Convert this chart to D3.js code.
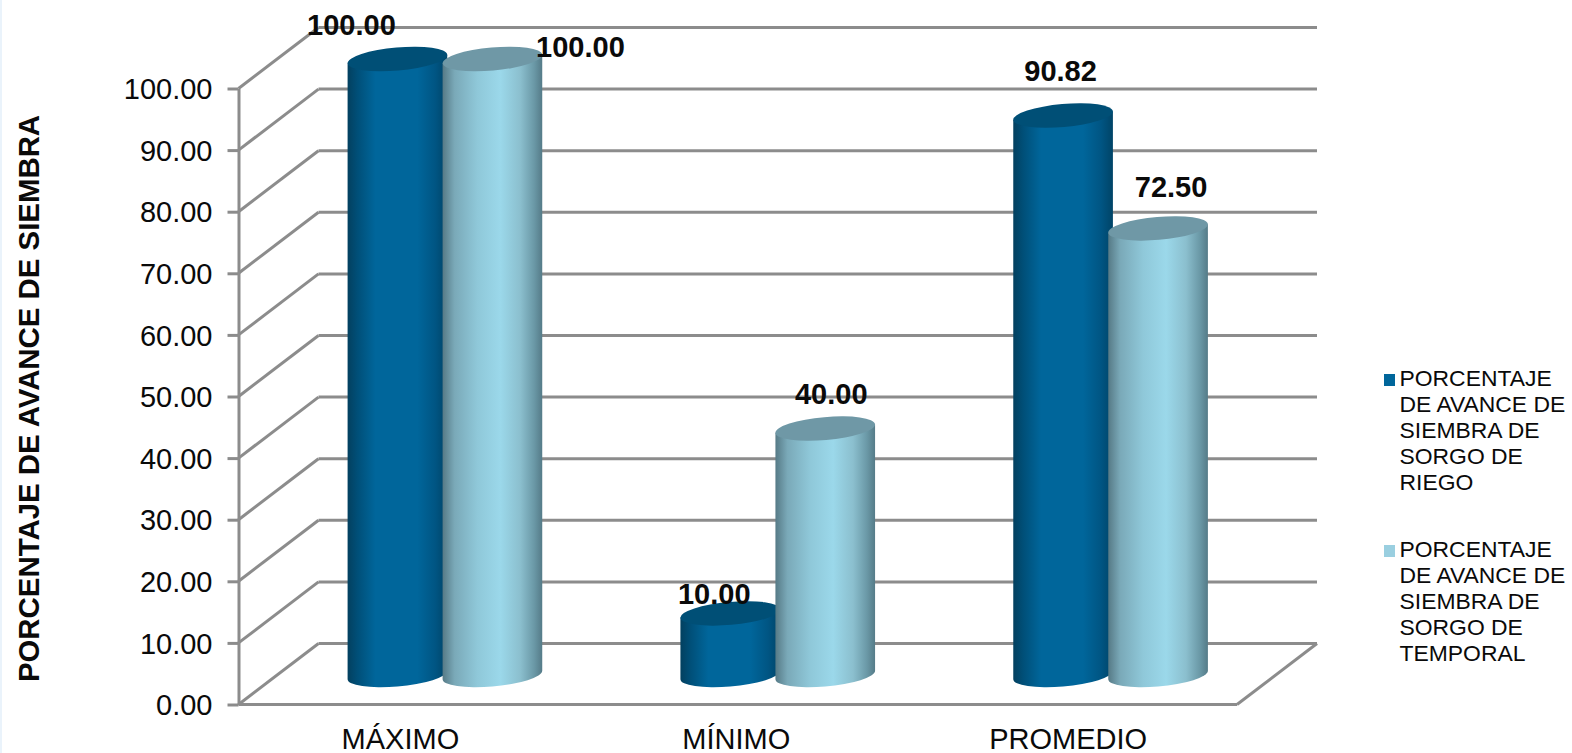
<!DOCTYPE html>
<html>
<head>
<meta charset="utf-8">
<script src="https://cdnjs.cloudflare.com/ajax/libs/d3/7.8.5/d3.min.js"></script>
<style>
  html, body { margin: 0; padding: 0; background: #fff; overflow: hidden; }
  text { font-family: "Liberation Sans", Arial, sans-serif; fill: #0a0a0a; }
</style>
</head>
<body>
<div id="chart"></div>
<script>
// datos
var categories = ["MÁXIMO", "MÍNIMO", "PROMEDIO"];
var riego = [100, 10, 90.82];
var temporal = [100, 40, 72.5];
var yTicks = [0, 10, 20, 30, 40, 50, 60, 70, 80, 90, 100];
var seriesNames = ["PORCENTAJE DE AVANCE DE SIEMBRA DE SORGO DE RIEGO",
                   "PORCENTAJE DE AVANCE DE SIEMBRA DE SORGO DE TEMPORAL"];
var legendLines = [["PORCENTAJE", "DE AVANCE DE", "SIEMBRA DE", "SORGO DE", "RIEGO"],
                   ["PORCENTAJE", "DE AVANCE DE", "SIEMBRA DE", "SORGO DE", "TEMPORAL"]];
var yTitle = "PORCENTAJE DE AVANCE DE SIEMBRA";

var W = 1572, H = 753;
var x0 = 238.5, x1 = 1237,      // pared frontal
    depthX = 80, depthY = 61;   // desplazamiento 3D

var yScale = d3.scaleLinear().domain([0, 100]).range([704.5, 88.5]);
var xScale = d3.scaleBand().domain(categories).range([x0, x1]);
var serieScale = d3.scaleBand().domain([0, 1]).range([-95, 95]);

var svg = d3.select("#chart").append("svg").attr("width", W).attr("height", H);
var defs = svg.append("defs");

function addGradient(id, stops) {
  var g = defs.append("linearGradient").attr("id", id)
    .attr("x1", 0).attr("x2", 1).attr("y1", 0).attr("y2", 0);
  stops.forEach(function (s) {
    g.append("stop").attr("offset", s[0]).attr("stop-color", s[1]);
  });
}
addGradient("gradRiego", [[0, "#03405f"], [0.1, "#004f78"], [0.28, "#00669b"], [0.7, "#00669b"], [0.88, "#005583"], [1, "#004467"]]);
addGradient("gradTemporal", [[0, "#567a86"], [0.12, "#7aa9b8"], [0.35, "#8fc8d9"], [0.58, "#9bd8ea"], [0.78, "#8bbfce"], [0.92, "#6a98a6"], [1, "#557b88"]]);

// franja clara en el borde izquierdo
svg.append("rect").attr("x", 0).attr("y", 0).attr("width", 2).attr("height", H).attr("fill", "#eaf3fb");

//---------------------  rejilla
var gridColor = "#8c8c8c", gridWidth = 3;
var grid = svg.append("g").attr("fill", "none").attr("stroke", gridColor).attr("stroke-width", gridWidth);

grid.selectAll("line.back").data(yTicks).enter().append("line")
  .attr("class", "back")
  .attr("x1", x0 + depthX).attr("x2", x1 + depthX)
  .attr("y1", function (d) { return yScale(d) - depthY; })
  .attr("y2", function (d) { return yScale(d) - depthY; });

grid.selectAll("line.side").data(yTicks).enter().append("line")
  .attr("class", "side")
  .attr("x1", x0).attr("x2", x0 + depthX)
  .attr("y1", function (d) { return yScale(d); })
  .attr("y2", function (d) { return yScale(d) - depthY; });

// piso
grid.append("line").attr("x1", x0).attr("x2", x1).attr("y1", yScale(0)).attr("y2", yScale(0));
grid.append("line").attr("x1", x1).attr("x2", x1 + depthX)
  .attr("y1", yScale(0)).attr("y2", yScale(0) - depthY);

//---------------------  eje Y
var yAxis = svg.append("g").attr("transform", "translate(" + x0 + ",0)")
  .call(d3.axisLeft(yScale).tickValues(yTicks).tickSize(11).tickSizeOuter(0).tickPadding(15)
    .tickFormat(function (d) { return d.toFixed(2); }));
yAxis.selectAll("path, line").attr("stroke", gridColor).attr("stroke-width", gridWidth);
yAxis.selectAll("text").attr("font-size", 29).attr("font-family", null).attr("fill", "#0a0a0a")
  .attr("transform", "translate(0,1)");

svg.append("text")
  .attr("transform", "translate(38.5,398.5) rotate(-90)")
  .attr("text-anchor", "middle")
  .attr("font-size", 29.4).attr("font-weight", "bold")
  .text(yTitle);

//---------------------  cilindros
var rx = 50, ry = 11.5, tilt = 5;
var sinT = Math.sin(tilt * Math.PI / 180), cosT = Math.cos(tilt * Math.PI / 180);
var dx = Math.sqrt(rx * rx * cosT * cosT + ry * ry * sinT * sinT),
    dy = (rx * rx - ry * ry) * sinT * cosT / dx;   // puntos tangentes verticales de la elipse
var baseDrop = 29.5;  // centro de la base respecto al piso frontal

function cylinderPath(cx, yTop, yBase) {
  return "M" + (cx - dx) + "," + (yTop + dy) +
    "L" + (cx - dx) + "," + (yBase + dy) +
    "A" + rx + "," + ry + " " + (-tilt) + " 0 0 " + (cx + dx) + "," + (yBase - dy) +
    "L" + (cx + dx) + "," + (yTop - dy) + "Z";
}

var series = [
  { values: riego, fill: "url(#gradRiego)", top: "#004f76" },
  { values: temporal, fill: "url(#gradTemporal)", top: "#6f98a6" }
];
var barCenter = function (cat, s) {
  return xScale(cat) + xScale.bandwidth() / 2 + depthX / 2 + serieScale(s) + serieScale.bandwidth() / 2;
};

series.forEach(function (serie, s) {
  var g = svg.append("g").attr("class", "serie-" + s);
  var bars = g.selectAll("g").data(categories).enter().append("g");
  bars.append("path")
    .attr("d", function (c, i) {
      return cylinderPath(barCenter(c, s), yScale(serie.values[i]) - baseDrop, yScale(0) - baseDrop);
    })
    .attr("fill", serie.fill);
  bars.append("ellipse")
    .attr("rx", rx).attr("ry", ry)
    .attr("fill", serie.top)
    .attr("transform", function (c, i) {
      return "translate(" + barCenter(c, s) + "," + (yScale(serie.values[i]) - baseDrop) + ") rotate(" + (-tilt) + ")";
    });
});

//---------------------  etiquetas de valor (colocadas a mano en el original)
var labelOffsets = [
  [[-46, -24], [-16, -9], [-2.5, -35]],
  [[88, -2], [6, -25], [13, -31]]
];
series.forEach(function (serie, s) {
  svg.append("g").selectAll("text").data(categories).enter().append("text")
    .attr("x", function (c, i) { return barCenter(c, s) + labelOffsets[s][i][0]; })
    .attr("y", function (c, i) { return yScale(serie.values[i]) - baseDrop + labelOffsets[s][i][1]; })
    .attr("text-anchor", "middle")
    .attr("font-size", 29).attr("font-weight", "bold")
    .text(function (c, i) { return serie.values[i].toFixed(2); });
});

//---------------------  categorias
var categoryShift = [-4.5, -1.5, -2.5];
svg.append("g").selectAll("text").data(categories).enter().append("text")
  .attr("x", function (c, i) { return xScale(c) + xScale.bandwidth() / 2 + categoryShift[i]; })
  .attr("y", 748.5)
  .attr("text-anchor", "middle")
  .attr("font-size", 29)
  .text(function (c) { return c; });

//---------------------  leyenda
var legendY = [386, 557], legendColor = ["#00669b", "#9acfe0"];
legendLines.forEach(function (lines, s) {
  var g = svg.append("g").attr("class", "legend").attr("data-name", seriesNames[s]);
  g.append("rect").attr("x", 1384).attr("y", legendY[s] - 12)
    .attr("width", 11).attr("height", 12).attr("fill", legendColor[s]);
  g.selectAll("text").data(lines).enter().append("text")
    .attr("x", 1399.5)
    .attr("y", function (d, i) { return legendY[s] + i * 26; })
    .attr("font-size", 22.9)
    .text(function (d) { return d; });
});
</script>
</body>
</html>
